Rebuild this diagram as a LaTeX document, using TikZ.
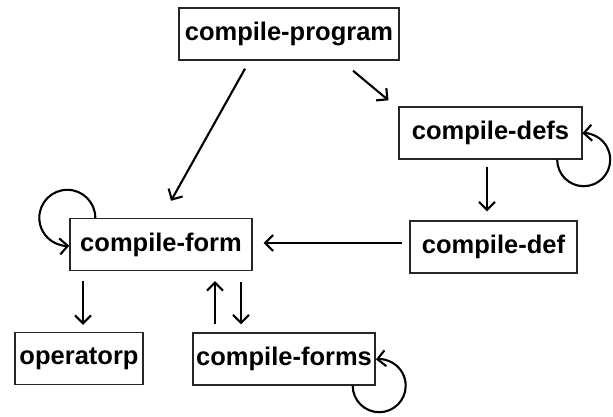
\documentclass[tikz,border=0pt]{standalone}
\usepackage{fontspec}
\setmainfont{Liberation Sans}
\usetikzlibrary{arrows.meta}
\begin{document}
\begin{tikzpicture}[x=1pt,y=1pt,
  fn/.style={draw=black!85,line width=1.4pt,minimum height=52pt,inner sep=0pt,
    font=\fontsize{25.5}{30}\selectfont\bfseries},
  call/.style={line width=2.1pt,-{Straight Barb[length=8pt,width=16pt]}}]
\useasboundingbox (0,0) rectangle (613,416);

\node[fn,minimum width=220pt] (prog)  at (289,382)   {compile-program};
\node[fn,minimum width=183pt] (defs)  at (490.5,283) {compile-defs};
\node[fn,minimum width=182pt] (form)  at (161,171.5) {compile-form};
\node[fn,minimum width=167pt] (def)   at (493.5,169) {compile-def};
\node[fn,minimum width=128pt] (oper)  at (79,57.5)   {operatorp};
\node[fn,minimum width=182pt] (forms) at (284,57)    {compile-forms};

\draw[call] ([xshift=-44pt,yshift=-8pt]prog.south) -- ([xshift=10pt,yshift=17pt]form.north);
\draw[call] ([xshift=64pt,yshift=-10pt]prog.south) -- ([xshift=-102pt,yshift=6pt]defs.north);
\draw[call] ([xshift=-3.5pt,yshift=-7pt]defs.south) -- ([xshift=-6.5pt,yshift=9pt]def.north);
\draw[call] ([xshift=-7pt,yshift=4pt]def.west) -- ([xshift=11pt,yshift=1.5pt]form.east);
\draw[call] ([xshift=-78pt,yshift=-10pt]form.south) -- ([xshift=4pt,yshift=7pt]oper.north);
\draw[call] ([xshift=-69pt,yshift=8pt]forms.north) -- ([xshift=54pt,yshift=-10pt]form.south);
\draw[call] ([xshift=80pt,yshift=-11pt]form.south) -- ([xshift=-43pt,yshift=8pt]forms.north);

% recursive calls
\draw[call] ([xshift=26pt]form.north west) arc[start angle=0,end angle=274,radius=28pt];
\draw[call] ([xshift=-25.5pt]defs.south east) arc[start angle=180,end angle=453,radius=26.5pt];
\draw[call] ([xshift=-23pt]forms.south east) arc[start angle=180,end angle=457,radius=26.5pt];
\end{tikzpicture}
\end{document}
